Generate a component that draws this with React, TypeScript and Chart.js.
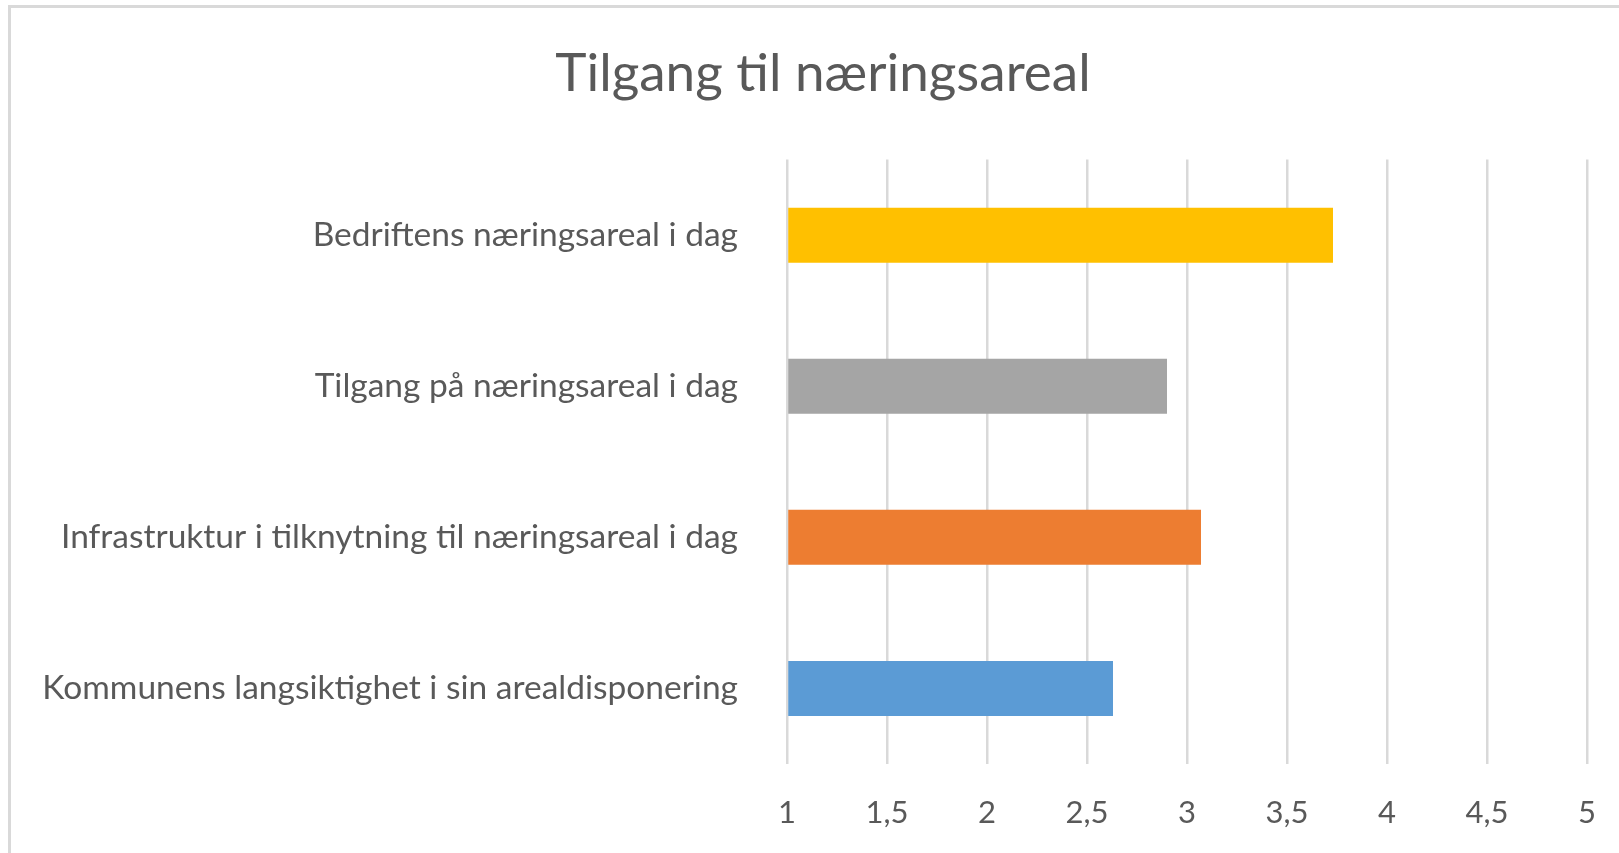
import React, { useEffect, useRef } from "react";
import { Chart, registerables } from "chart.js";

Chart.register(...registerables);

const TITLE = "Tilgang til næringsareal";
const categories = [
  "Bedriftens næringsareal i dag",
  "Tilgang på næringsareal i dag",
  "Infrastruktur i tilknytning til næringsareal i dag",
  "Kommunens langsiktighet i sin arealdisponering",
];
const values = [3.73, 2.9, 3.07, 2.63];
const barColors = ["#FFC000", "#A5A5A5", "#ED7D31", "#5B9BD5"];
const xTickValues = [1, 1.5, 2, 2.5, 3, 3.5, 4, 4.5, 5];
const xTickLabels = ["1", "1,5", "2", "2,5", "3", "3,5", "4", "4,5", "5"];

const FONT = "Lato, 'Open Sans', sans-serif";
const TEXT = "#595959";
const GRID = "#d9d9d9";

const unclipLabels = {
  id: "unclipLabels",
  afterLayout(chart: any) {
    const y = chart.scales.y;
    if (y) {
      y.left = 0;
      y.width = y.right;
    }
  },
};

export default function App() {
  const ref = useRef<HTMLCanvasElement | null>(null);

  useEffect(() => {
    if (!ref.current) return;
    const chart = new Chart(ref.current, {
      type: "bar",
      data: {
        labels: categories,
        datasets: [
          {
            data: values,
            backgroundColor: barColors,
            borderWidth: 0,
            base: 1,
            categoryPercentage: 0.364,
            barPercentage: 1,
          } as any,
        ],
      },
      plugins: [unclipLabels],
      options: {
        indexAxis: "y",
        animation: false,
        responsive: false,
        maintainAspectRatio: false,
        layout: { padding: { top: 0, left: 59, right: 59, bottom: 0 } },
        plugins: {
          legend: { display: false },
          tooltip: { enabled: false },
          title: {
            display: true,
            text: TITLE,
            color: TEXT,
            font: { family: FONT, size: 53, weight: "normal" },
            padding: { top: 42, bottom: 54 },
          },
        },
        scales: {
          x: {
            type: "linear",
            min: 1,
            max: 5,
            afterBuildTicks: (scale: any) => {
              scale.ticks = xTickValues.map((v) => ({ value: v }));
            },
            afterFit: (scale: any) => {
              scale.height = 89;
            },
            ticks: {
              color: TEXT,
              font: { family: FONT, size: 31 },
              padding: 30,
              callback: (v: any) => {
                const i = xTickValues.indexOf(Number(v));
                return i >= 0 ? xTickLabels[i] : "";
              },
            },
            grid: { color: GRID, lineWidth: 2.5, drawTicks: false },
            border: { display: false },
          },
          y: {
            afterFit: (scale: any) => {
              scale.width = 787 - 59;
            },
            ticks: {
              color: TEXT,
              font: { family: FONT, size: 33.5 },
              padding: 49,
            },
            grid: { display: false, drawTicks: false },
            border: { display: false },
          },
        },
      },
    });
    return () => chart.destroy();
  }, []);

  return (
    <div
      style={{
        position: "absolute",
        left: 0,
        top: 0,
        width: 1619,
        height: 853,
        overflow: "hidden",
        background: "#fff",
      }}
    >
      <div
        style={{
          position: "absolute",
          left: 8,
          top: 5,
          width: 3000,
          height: 3000,
          borderTop: `3px solid ${GRID}`,
          borderLeft: `3px solid ${GRID}`,
        }}
      />
      <canvas
        ref={ref}
        width={1646}
        height={853}
        style={{ position: "absolute", left: 0, top: 0, width: 1646, height: 853 }}
      />
    </div>
  );
}
